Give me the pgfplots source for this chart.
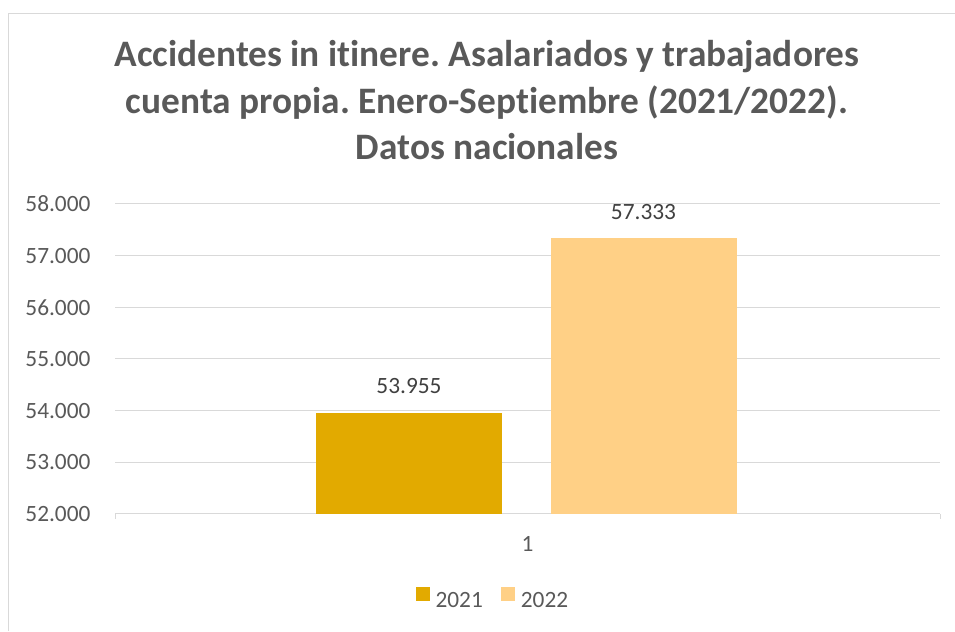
\documentclass[border=0pt]{standalone}
\usepackage{pgfplots}
\pgfplotsset{compat=1.18}
\usepackage{fontspec}
\setmainfont{Carlito}[Ligatures=NoCommon]
\frenchspacing
\definecolor{txt}{HTML}{595959}
\definecolor{lbl}{HTML}{404040}
\definecolor{gridc}{HTML}{D9D9D9}
\definecolor{cA}{HTML}{E2AA00}
\definecolor{cB}{HTML}{FFD086}
\newcommand{\tfont}{\fontsize{17.5}{21}\selectfont}
\newcommand{\hfont}{\bfseries\fontsize{28}{33}\selectfont}
\begin{document}
\begin{tikzpicture}
\draw[gridc, line width=0.75pt] (6pt,0pt) -- (6pt,463.1pt) -- (720pt,463.1pt);
\begin{axis}[
  at={(86.25pt,87.75pt)}, anchor=south west,
  scale only axis, width=618.75pt, height=232.5pt,
  xmin=0.5, xmax=1.5, ymin=52000, ymax=58000,
  ytick distance=1000, scaled y ticks=false,
  /pgf/number format/1000 sep={.},
  /pgf/number format/assume math mode=true,
  ymajorgrids, grid style={gridc, line width=0.75pt},
  axis line style={draw=none},
  tick pos=left,
  ytick style={draw=none},
  yticklabel style={font=\tfont, text=txt, anchor=east, inner sep=0pt, xshift=-18.2pt},
  xtick={1}, xticklabels={1}, xtick style={draw=none},
  xticklabel style={font=\tfont, text=txt, anchor=base, inner sep=0pt, yshift=-28.3pt},
  extra x ticks={0.5,1.5}, extra x tick labels={},
  extra x tick style={xtick style={draw=gridc, line width=0.75pt}, major tick length=3.75pt, tick align=outside, grid=none},
  legend style={at={(0.4568,-0.271)}, anchor=center, draw=none, fill=none,
    legend columns=2, font=\tfont, text=txt,
    nodes={inner sep=0pt}, column sep=4.5pt,
    /tikz/every even column/.append style={column sep=13.5pt}},
  legend image code/.code={\fill[#1] (0pt,0pt) rectangle (10.5pt,10.5pt);},
]
\addplot[ybar, fill=cA, draw=none, bar width=139.5pt, bar shift=-88.9pt, nodes near coords,
  every node near coord/.append style={font=\tfont, text=lbl, anchor=base, yshift=14.25pt, xshift=-88.9pt}] coordinates {(1,53955)};
\addlegendentry{2021}
\addplot[ybar, fill=cB, draw=none, bar width=139.5pt, bar shift=87pt, nodes near coords,
  every node near coord/.append style={font=\tfont, text=lbl, anchor=base, yshift=14.25pt, xshift=87pt}] coordinates {(1,57333)};
\addlegendentry{2022}
\end{axis}
\node[anchor=base, font=\hfont, text=txt] at (365.25pt,423.2pt) {Accidentes in itinere. Asalariados y trabajadores};
\node[anchor=base, font=\hfont, text=txt] at (365.25pt,388.1pt) {cuenta propia. Enero-Septiembre (2021/2022).};
\node[anchor=base, font=\hfont, text=txt] at (365.25pt,353.25pt) {Datos nacionales};
\pgfresetboundingbox
\path[use as bounding box] (0pt,0pt) rectangle (716.25pt,473.25pt);
\end{tikzpicture}
\end{document}
